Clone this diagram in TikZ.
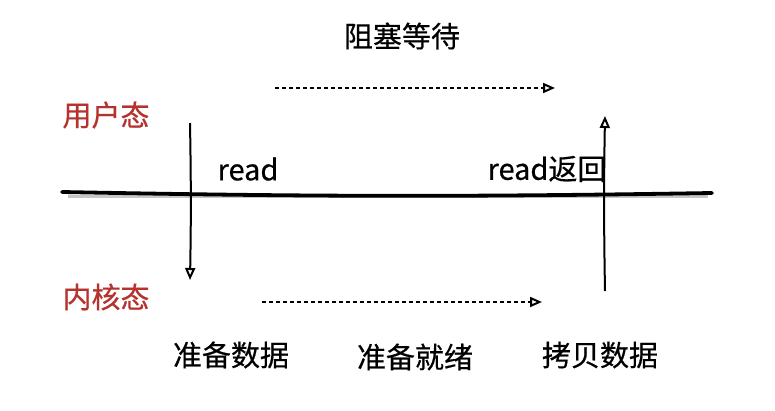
\documentclass[tikz,border=0pt]{standalone}
\usepackage{fontspec}
\setmainfont{Noto Sans CJK SC}[FakeBold=0.5]
\usetikzlibrary{arrows.meta}

\definecolor{statered}{HTML}{B5322E}

\begin{document}
\begin{tikzpicture}[x=1pt,y=-1pt,
  lbl/.style={font=\fontsize{29}{30}\selectfont, inner sep=0pt},
  statelbl/.style={lbl, text=statered},
  flow/.style={line width=2pt, -{Triangle[open,length=12pt,width=10pt]}},
  wait/.style={flow, dash pattern=on 4pt off 3pt}]
\useasboundingbox[fill=white] (0,0) rectangle (775,411);
% title
\node[lbl] (block) at (402,36) {阻塞等待};
% user / kernel state labels
\node[statelbl] (user) at (106,115) {用户态};
\node[statelbl] (kernel) at (106,297) {内核态};
% the boundary line, with its grey shadow
\coordinate (bl) at (62,192);
\coordinate (br) at (712,193);
\draw[gray!45, line width=3pt] ([shift={(6,5)}]bl) -- ([shift={(-4,4)}]br);
\draw[line width=3.8pt, line cap=round] (bl) to[bend right=1] (br);
% read labels
\node[lbl] (read) at (248,169) {read};
\node[lbl] (ret) at (547,169) {read返回};
% vertical calls
\coordinate (callA) at (190,123);
\coordinate (callB) at (190,280);
\coordinate (retA) at (605,291);
\coordinate (retB) at (605,116);
\draw[flow] (callA) to[bend left=1] (callB);
\draw[flow] (retA) to[bend left=1] (retB);
% waiting arrows
\coordinate (topA) at (275,88);
\coordinate (topB) at (555,88);
\coordinate (botA) at (262,302);
\coordinate (botB) at (542,302);
\draw[wait] (topA) -- (topB);
\draw[wait] (botA) -- (botB);
% kernel steps
\node[lbl] (prep) at (231,355) {准备数据};
\node[lbl] (ready) at (415,357) {准备就绪};
\node[lbl] (copy) at (600,355) {拷贝数据};
\end{tikzpicture}
\end{document}
